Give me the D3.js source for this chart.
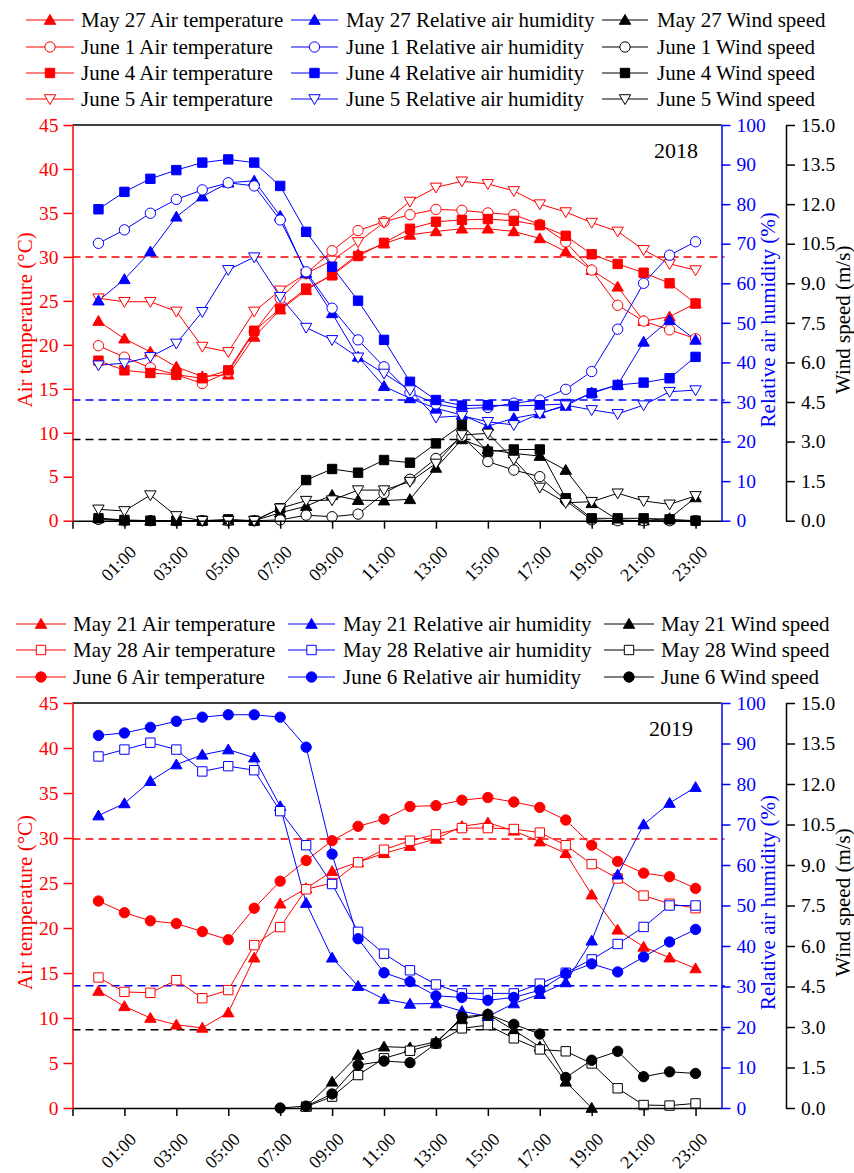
<!DOCTYPE html>
<html>
<head>
<meta charset="utf-8">
<script src="https://cdn.jsdelivr.net/npm/d3@7/dist/d3.min.js"></script>
<style>
  body { margin: 0; background: #fff; }
  svg { display: block; font-family: "Liberation Serif", "Times New Roman", serif; }
</style>
</head>
<body>
<div id="chart"></div>
<script>
'use strict';

// hours of the day (0 = 00:00 ... 23 = 23:00)
var hours = d3.range(0, 24);
var tickHours = [-1, 1, 3, 5, 7, 9, 11, 13, 15, 17, 19, 21, 23];
var tempTicks = [0, 5, 10, 15, 20, 25, 30, 35, 40, 45];
var rhTicks = [0, 10, 20, 30, 40, 50, 60, 70, 80, 90, 100];
var windTicks = [0, 1.5, 3, 4.5, 6, 7.5, 9, 10.5, 12, 13.5, 15];

// ---- 2018 ----
var may27Temp18 = [22.7, 20.7, 19.2, 17.5, 16.4, 16.6, 20.9, 24.0, 26.2, 28.0, 30.3, 31.5, 32.5, 32.9, 33.2, 33.2, 32.9, 32.1, 30.6, 28.5, 26.6, 22.7, 23.2, 24.7];
var june1Temp18 = [19.9, 18.6, 17.4, 16.6, 15.6, 16.9, 21.5, 25.3, 28.1, 30.7, 33.0, 34.0, 34.8, 35.4, 35.3, 35.0, 34.8, 33.7, 31.7, 28.5, 24.5, 22.7, 21.7, 20.7];
var june4Temp18 = [18.2, 17.1, 16.8, 16.6, 16.2, 17.1, 21.6, 24.1, 26.4, 27.9, 30.1, 31.6, 33.2, 34.0, 34.2, 34.3, 34.1, 33.6, 32.4, 30.3, 29.2, 28.2, 27.0, 24.7];
var june5Temp18 = [25.3, 24.9, 24.9, 23.8, 19.8, 19.2, 23.8, 26.2, 28.1, 29.6, 31.7, 33.9, 36.3, 37.9, 38.6, 38.3, 37.5, 36.0, 35.1, 33.9, 32.9, 30.8, 29.2, 28.5];

var may27RH18 = [55.6, 61.0, 68.0, 76.8, 81.9, 85.4, 85.9, 77.0, 62.5, 52.4, 41.4, 34.0, 30.9, 28.4, 26.7, 23.9, 25.9, 27.1, 29.0, 32.4, 34.3, 45.2, 50.7, 45.7];
var june1RH18 = [70.1, 73.5, 77.7, 81.2, 83.6, 85.4, 84.6, 76.0, 62.9, 53.7, 45.7, 38.9, 32.4, 29.5, 28.3, 28.6, 29.7, 30.5, 33.2, 37.7, 48.4, 60.0, 67.1, 70.5];
var june4RH18 = [78.7, 83.1, 86.4, 88.6, 90.5, 91.3, 90.5, 84.6, 73.0, 64.2, 55.6, 45.7, 35.1, 30.5, 29.1, 29.2, 29.0, 29.2, 29.5, 32.2, 34.3, 34.9, 36.0, 41.4];
var june5RH18 = [39.3, 39.8, 41.4, 44.8, 52.8, 63.4, 66.6, 56.6, 48.8, 45.7, 41.3, 37.2, 33.0, 26.1, 26.5, 25.0, 24.2, 27.1, 29.2, 28.0, 27.0, 29.2, 32.6, 33.0];

var may27Wind18 = [0.1, 0, 0, 0, 0, 0, 0, 0.3, 0.55, 0.97, 0.78, 0.76, 0.81, 2.0, 3.08, 2.7, 2.55, 2.45, 1.92, 0.66, 0.03, 0, 0.09, 0.88];
var june1Wind18 = [0.05, 0, 0, 0, 0, 0, 0, 0.03, 0.21, 0.15, 0.25, 1.04, 1.57, 2.36, 3.2, 2.24, 1.92, 1.67, 0.76, 0.03, 0, 0, 0, 0];
var june4Wind18 = [0.09, 0.03, 0, 0, 0, 0.05, 0, 0.47, 1.54, 1.96, 1.82, 2.3, 2.2, 2.93, 3.63, 2.62, 2.7, 2.7, 0.85, 0.09, 0.09, 0.09, 0.05, 0];
var june5Wind18 = [0.43, 0.37, 0.97, 0.18, 0, 0, 0, 0.47, 0.76, 0.78, 1.16, 1.16, 1.48, 2.17, 3.25, 3.31, 2.32, 1.26, 0.68, 0.72, 1.04, 0.75, 0.62, 0.94];

// ---- 2019 ----
var may21Temp19 = [13.0, 11.3, 10.0, 9.25, 8.9, 10.6, 16.7, 22.7, 24.4, 26.3, 27.3, 28.3, 29.1, 29.9, 31.3, 31.7, 30.8, 29.6, 28.3, 23.7, 19.8, 17.9, 16.7, 15.5];
var may28Temp19 = [14.5, 12.9, 12.8, 14.2, 12.2, 13.1, 18.1, 20.1, 24.3, 25.0, 27.3, 28.7, 29.7, 30.4, 31.1, 31.1, 31.0, 30.6, 29.2, 27.1, 25.5, 23.6, 22.7, 22.2];
var june6Temp19 = [23.0, 21.7, 20.8, 20.5, 19.6, 18.7, 22.2, 25.2, 27.5, 29.7, 31.3, 32.1, 33.5, 33.6, 34.2, 34.5, 34.0, 33.4, 32.0, 29.2, 27.4, 26.1, 25.7, 24.4];

var may21RH19 = [72.2, 75.2, 80.7, 84.8, 87.2, 88.5, 86.5, 74.5, 50.6, 37.1, 30.1, 26.9, 25.7, 25.8, 23.9, 22.6, 25.8, 28.1, 31.0, 41.3, 57.6, 70.0, 75.3, 79.2];
var may28RH19 = [86.8, 88.5, 90.2, 88.5, 83.1, 84.4, 83.4, 73.3, 64.9, 55.3, 43.5, 38.1, 34.0, 30.5, 28.3, 28.3, 28.3, 30.7, 33.4, 36.7, 40.5, 44.7, 50.0, 50.0];
var june6RH19 = [92.0, 92.6, 94.0, 95.5, 96.5, 97.1, 97.1, 96.5, 89.1, 62.7, 41.8, 33.4, 31.2, 27.7, 27.3, 26.6, 27.3, 29.1, 33.2, 35.6, 33.6, 37.3, 41.0, 44.1];

// no readings before 07:00 / after 19:00 on some days
var may21Wind19 = [null, null, null, null, null, null, null, null, 0.05, 0.97, 1.96, 2.27, 2.24, 2.45, 3.3, 3.47, 2.88, 2.27, 0.97, 0, null, null, null, null];
var may28Wind19 = [null, null, null, null, null, null, null, null, 0.05, 0.42, 1.22, 1.84, 2.12, 2.39, 2.95, 3.07, 2.58, 2.17, 2.1, 1.65, 0.73, 0.11, 0.09, 0.17];
var june6Wind19 = [null, null, null, null, null, null, null, 0, 0.07, 0.52, 1.59, 1.74, 1.68, 2.39, 3.37, 3.47, 3.1, 2.74, 1.13, 1.77, 2.1, 1.16, 1.34, 1.28];

// reference (threshold) lines
var refTemp = [30.0, 29.9];
var refRH = [30.5, 30.2];
var refWind = [3.08, 2.9];

var COLORS = { temp: '#ff0000', rh: '#0000ff', wind: '#000000' };
var KIND_LABEL = { temp: 'Air temperature', rh: 'Relative air humidity', wind: 'Wind speed' };

var W = 854, H = 1173;
var X0 = 72.5, X1 = 721.5, WIND_X = 786;

var svg = d3.select('#chart').append('svg')
    .attr('width', W)
    .attr('height', H)
    .attr('viewBox', '0 0 ' + W + ' ' + H);

var x = d3.scaleLinear().domain([-1, 24]).range([X0, X1]);

function pad(h) { return (h < 10 ? '0' : '') + h + ':00'; }

function symbolFor(shape) {
  if (shape === 'circle') return d3.symbol().type(d3.symbolCircle).size(84)();
  if (shape === 'square') return d3.symbol().type(d3.symbolSquare).size(88)();
  return d3.symbol().type(d3.symbolTriangle).size(56)();
}

function marker(g, s, color, cx, cy) {
  var rot = s.shape === 'down' ? ' rotate(180)' : '';
  var dy = s.shape === 'up' ? 1 : (s.shape === 'down' ? -1 : 0);
  g.append('path')
    .attr('d', symbolFor(s.shape))
    .attr('transform', 'translate(' + cx + ',' + (cy + dy) + ')' + rot)
    .attr('fill', s.filled ? color : '#fff')
    .attr('stroke', color)
    .attr('stroke-width', 1);
}

function drawPanel(p) {
  var yT = d3.scaleLinear().domain([0, 45]).range([p.bottom, p.top]);
  var yR = d3.scaleLinear().domain([0, 100]).range([p.bottom, p.top]);
  var yW = d3.scaleLinear().domain([0, 15]).range([p.bottom, p.top]);
  var scales = { temp: yT, rh: yR, wind: yW };
  var g = svg.append('g');

  // legend
  p.series.forEach(function(s, i) {
    var kinds = ['temp', 'rh', 'wind'];
    kinds.forEach(function(k, c) {
      var col = p.legendCols[c];
      var ly = p.legendRows[i];
      var color = COLORS[k];
      g.append('line')
        .attr('x1', col[0]).attr('x2', col[1])
        .attr('y1', ly).attr('y2', ly)
        .attr('stroke', color).attr('stroke-width', 1.2);
      marker(g, s, color, (col[0] + col[1]) / 2, ly);
      g.append('text')
        .attr('x', col[2]).attr('y', ly + 7)
        .attr('font-size', 21)
        .attr('fill', '#000')
        .text(s.name + ' ' + KIND_LABEL[k]);
    });
  });

  // threshold dashed lines
  [[yT(p.refTemp), COLORS.temp], [yR(p.refRH), COLORS.rh], [yW(p.refWind), COLORS.wind]].forEach(function(r) {
    g.append('line')
      .attr('x1', X0).attr('x2', X1 + 3)
      .attr('y1', r[0]).attr('y2', r[0])
      .attr('stroke', r[1]).attr('stroke-width', 1.5)
      .attr('stroke-dasharray', '8,5');
  });

  // series lines then markers
  var kinds = ['temp', 'rh', 'wind'];
  kinds.forEach(function(k) {
    var ys = scales[k];
    var line = d3.line()
      .defined(function(d) { return d.v != null; })
      .x(function(d) { return x(d.h); })
      .y(function(d) { return ys(d.v); });
    p.series.forEach(function(s) {
      var pts = hours.map(function(h) { return { h: h, v: s[k][h] }; });
      g.append('path')
        .datum(pts)
        .attr('d', line)
        .attr('fill', 'none')
        .attr('stroke', COLORS[k])
        .attr('stroke-width', 1);
    });
  });
  kinds.forEach(function(k) {
    var ys = scales[k];
    p.series.forEach(function(s) {
      hours.forEach(function(h) {
        var v = s[k][h];
        if (v == null) return;
        marker(g, s, COLORS[k], x(h), ys(v));
      });
    });
  });

  // top frame
  g.append('line')
    .attr('x1', X0).attr('x2', X1)
    .attr('y1', p.top).attr('y2', p.top)
    .attr('stroke', '#000').attr('stroke-width', 1.5);

  // x axis
  var xa = g.append('g')
    .attr('transform', 'translate(0,' + p.bottom + ')')
    .call(d3.axisBottom(x).tickValues(tickHours).tickSize(8).tickSizeOuter(0)
      .tickFormat(function(h) { return h < 0 ? '' : pad(h); }));
  xa.select('.domain').attr('stroke', '#000').attr('stroke-width', 1.5);
  xa.selectAll('.tick line').attr('stroke', '#000').attr('stroke-width', 1.5);
  xa.selectAll('.tick text')
    .attr('font-family', 'Liberation Serif, serif')
    .attr('font-size', 18)
    .attr('fill', '#000')
    .attr('text-anchor', 'end')
    .attr('x', 0).attr('y', 0).attr('dy', '0.35em')
    .attr('transform', 'translate(8,28) rotate(-45)');

  function styleAxis(a, color) {
    a.select('.domain').attr('stroke', color).attr('stroke-width', 1.5);
    a.selectAll('.tick line').attr('stroke', color).attr('stroke-width', 1.5);
    a.selectAll('.tick text')
      .attr('font-family', 'Liberation Serif, serif')
      .attr('font-size', 19.5)
      .attr('fill', color);
  }

  var ta = g.append('g')
    .attr('transform', 'translate(' + X0 + ',0)')
    .call(d3.axisLeft(yT).tickValues(tempTicks).tickSize(9).tickPadding(5).tickSizeOuter(0));
  styleAxis(ta, COLORS.temp);

  var ra = g.append('g')
    .attr('transform', 'translate(' + X1 + ',0)')
    .call(d3.axisRight(yR).tickValues(rhTicks).tickSize(9).tickPadding(6).tickSizeOuter(0));
  styleAxis(ra, COLORS.rh);

  var wa = g.append('g')
    .attr('transform', 'translate(' + WIND_X + ',0)')
    .call(d3.axisRight(yW).tickValues(windTicks).tickSize(9).tickPadding(6).tickSizeOuter(0)
      .tickFormat(d3.format('.1f')));
  styleAxis(wa, COLORS.wind);

  // axis titles
  var mid = (p.top + p.bottom) / 2 - 3;
  g.append('text')
    .attr('transform', 'translate(32,' + mid + ') rotate(-90)')
    .attr('text-anchor', 'middle')
    .attr('font-size', 21)
    .attr('fill', COLORS.temp)
    .text('Air temperature (\u00B0C)');
  g.append('text')
    .attr('transform', 'translate(775,' + mid + ') rotate(-90)')
    .attr('text-anchor', 'middle')
    .attr('font-size', 21)
    .attr('fill', COLORS.rh)
    .text('Relative air humidity (%)');
  g.append('text')
    .attr('transform', 'translate(850,' + mid + ') rotate(-90)')
    .attr('text-anchor', 'middle')
    .attr('font-size', 21)
    .attr('fill', '#000')
    .text('Wind speed (m/s)');

  // year label
  g.append('text')
    .attr('x', p.yearX).attr('y', p.top + 33)
    .attr('text-anchor', 'end')
    .attr('font-size', 22)
    .attr('fill', '#000')
    .text(p.year);
}

drawPanel({
  year: '2018', yearX: 698,
  top: 125, bottom: 520.7,
  refTemp: refTemp[0], refRH: refRH[0], refWind: refWind[0],
  legendRows: [20, 47, 73, 99],
  legendCols: [[26, 74, 81], [291, 338, 346], [602, 648, 657]],
  series: [
    { name: 'May 27', shape: 'up', filled: true, temp: may27Temp18, rh: may27RH18, wind: may27Wind18 },
    { name: 'June 1', shape: 'circle', filled: false, temp: june1Temp18, rh: june1RH18, wind: june1Wind18 },
    { name: 'June 4', shape: 'square', filled: true, temp: june4Temp18, rh: june4RH18, wind: june4Wind18 },
    { name: 'June 5', shape: 'down', filled: false, temp: june5Temp18, rh: june5RH18, wind: june5Wind18 }
  ]
});

drawPanel({
  year: '2019', yearX: 693,
  top: 703, bottom: 1108,
  refTemp: refTemp[1], refRH: refRH[1], refWind: refWind[1],
  legendRows: [624, 650, 677],
  legendCols: [[16, 66, 73], [288, 335, 343], [604, 654, 661]],
  series: [
    { name: 'May 21', shape: 'up', filled: true, temp: may21Temp19, rh: may21RH19, wind: may21Wind19 },
    { name: 'May 28', shape: 'square', filled: false, temp: may28Temp19, rh: may28RH19, wind: may28Wind19 },
    { name: 'June 6', shape: 'circle', filled: true, temp: june6Temp19, rh: june6RH19, wind: june6Wind19 }
  ]
});
</script>
</body>
</html>
